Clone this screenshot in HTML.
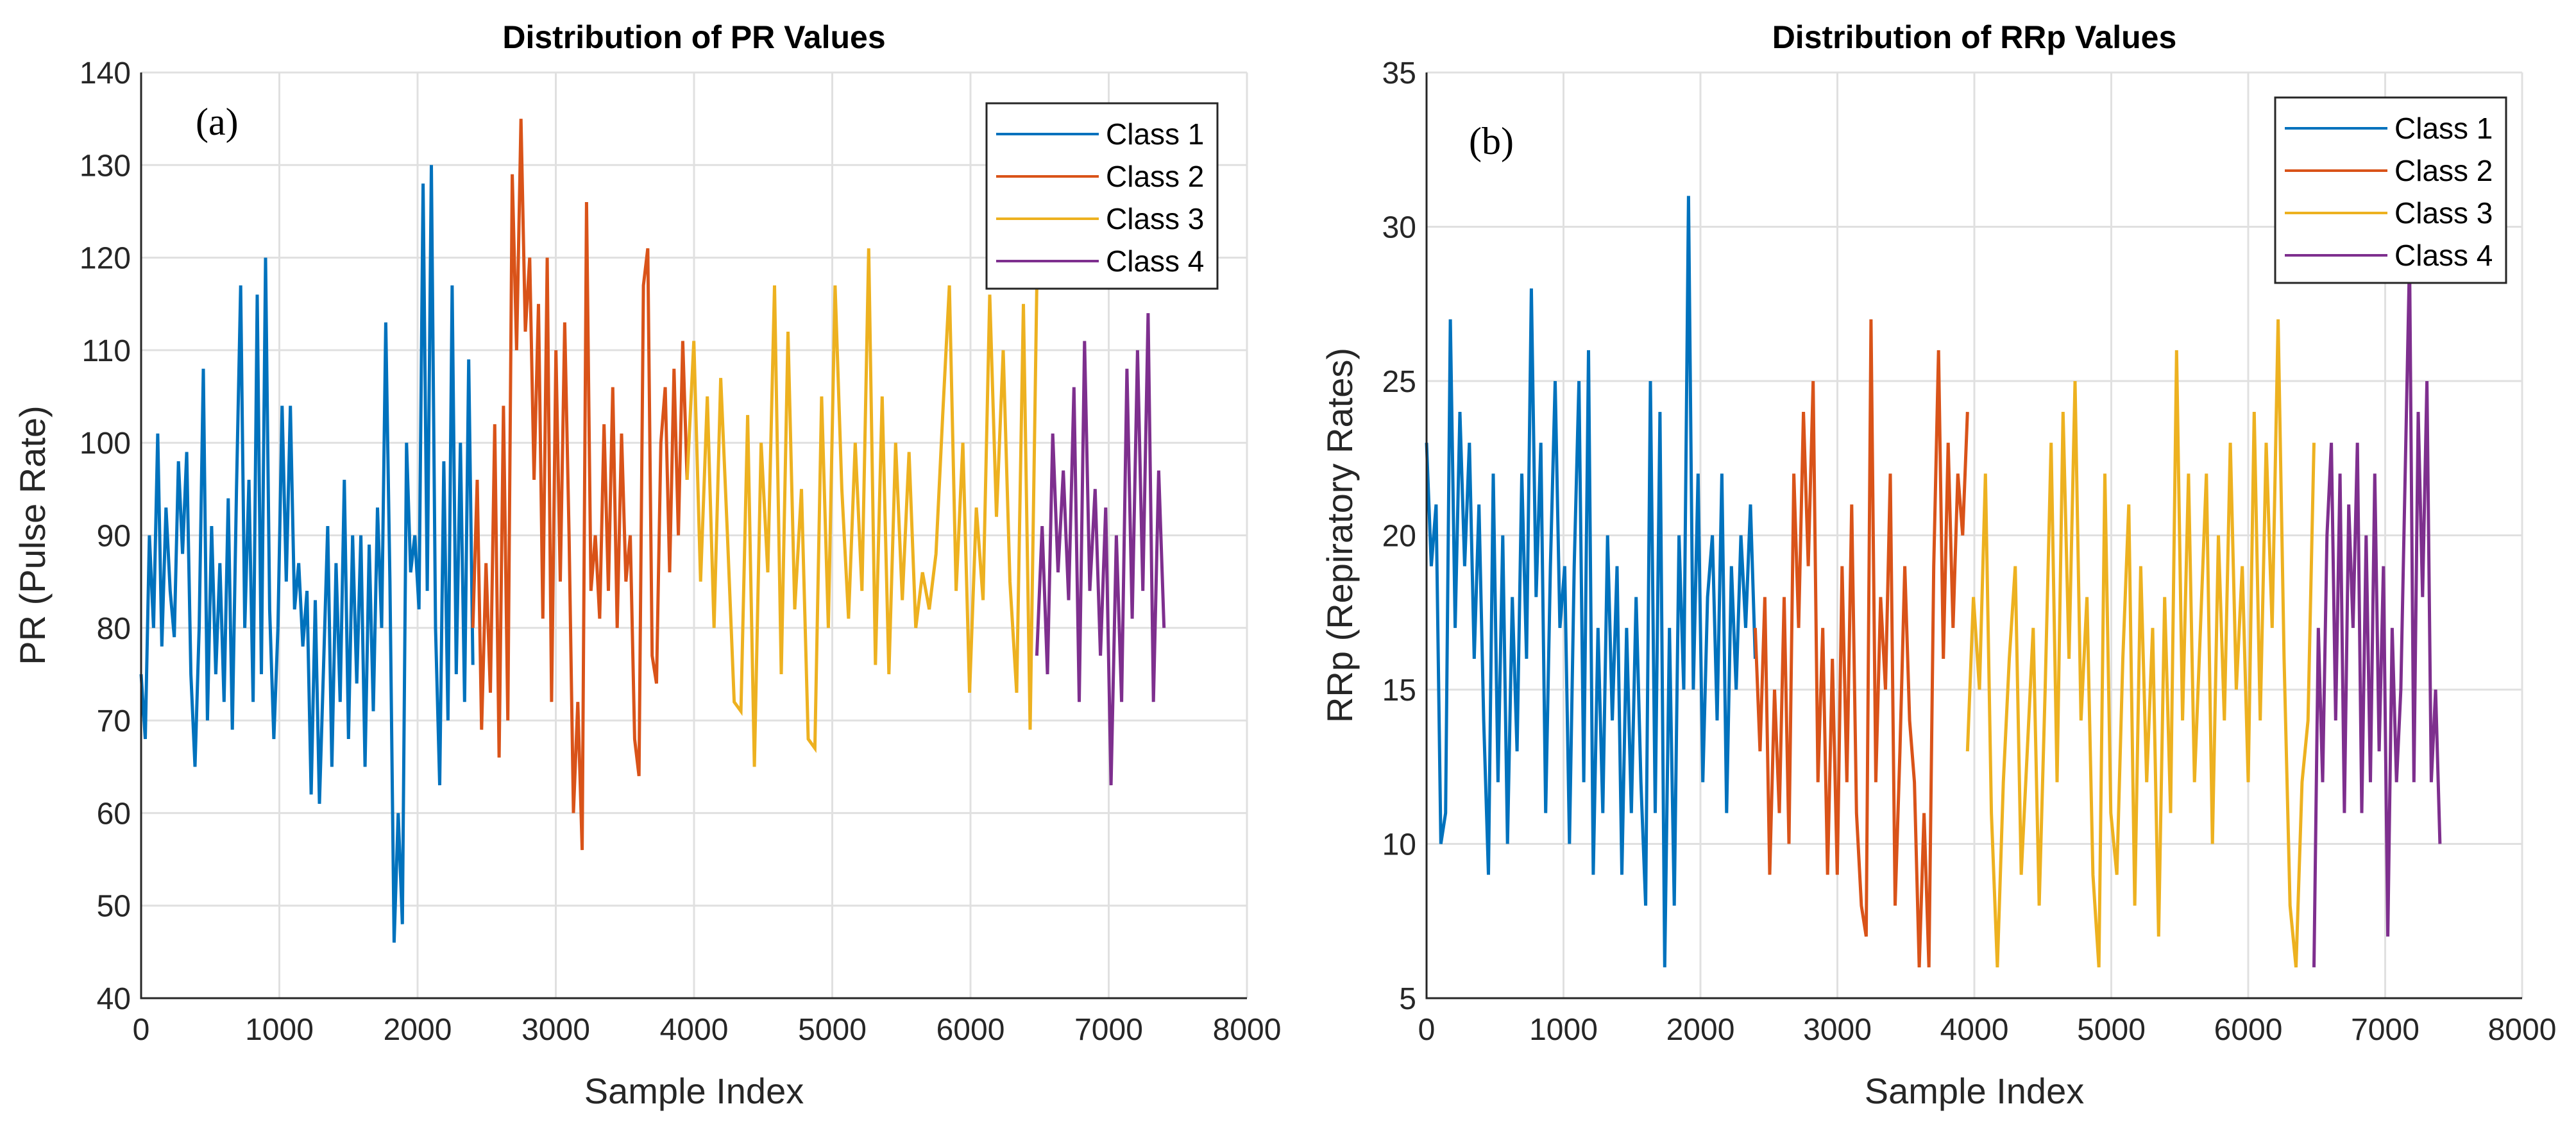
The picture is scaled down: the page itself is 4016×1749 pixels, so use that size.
<!DOCTYPE html>
<html><head><meta charset="utf-8"><style>
body{margin:0;background:#fff;}
svg{display:block;font-family:"Liberation Sans",sans-serif;}
</style></head><body>
<svg id="fig" width="4016" height="1749" viewBox="0 0 4016 1749" xmlns="http://www.w3.org/2000/svg"></svg>
<script>
const colors=['#0072BD','#D95319','#EDB120','#7E2F8E'];
const classNames=['Class 1','Class 2','Class 3','Class 4'];
const classRanges=[[0,2400],[2400,3950],[3950,6480],[6480,7400]];
const xTicks=[0,1000,2000,3000,4000,5000,6000,7000,8000];
const prTicks=[40,50,60,70,80,90,100,110,120,130,140];
const rrTicks=[5,10,15,20,25,30,35];
const pr1=[75,68,90,80,101,78,93,84,79,98,88,99,75,65,80,108,70,91,75,87,72,94,69,95,117,80,96,72,116,75,120,82,68,80,104,85,104,82,87,78,84,62,83,61,76,91,65,87,72,96,68,90,74,90,65,89,71,93,80,113,85,46,60,48,100,86,90,82,128,84,130,80,63,98,70,117,75,100,72,109,76];
const pr2=[80,96,69,87,73,102,66,104,70,129,110,135,112,120,96,115,81,120,72,110,85,113,90,60,72,56,126,84,90,81,102,84,106,80,101,85,90,68,64,117,121,77,74,100,106,86,108,90,111,96];
const pr3=[96,111,85,105,80,107,90,72,71,103,65,100,86,117,75,112,82,95,68,67,105,80,117,95,81,100,84,121,76,105,75,100,83,99,80,86,82,88,103,117,84,100,73,93,83,116,92,110,85,73,115,69,117];
const pr4=[77,91,75,101,86,97,83,106,72,111,84,95,77,93,63,90,72,108,81,110,84,114,72,97,80];
const rr1=[23,19,21,10,11,27,17,24,19,23,16,21,14,9,22,12,20,10,18,13,22,16,28,18,23,11,19,25,17,19,10,19,25,12,26,9,17,11,20,14,19,9,17,11,18,12,8,25,11,24,6,17,8,20,15,31,15,22,12,18,20,14,22,11,19,15,20,17,21,16];
const rr2=[17,13,18,9,15,11,18,10,22,17,24,19,25,12,17,9,16,9,19,12,21,11,8,7,27,12,18,15,22,8,13,19,14,12,6,11,6,19,26,16,23,17,22,20,24];
const rr3=[13,18,15,22,11,6,12,16,19,9,13,17,8,15,23,12,24,16,25,14,18,9,6,22,11,9,16,21,8,19,12,17,7,18,11,26,14,22,12,17,22,10,20,14,23,15,19,12,24,14,23,17,27,16,8,6,12,14,23];
const rr4=[6,17,12,20,23,14,22,11,21,17,23,11,20,12,22,13,19,7,17,12,15,22,29,12,24,18,25,12,15,10];

const NS='http://www.w3.org/2000/svg';
const svg=document.getElementById('fig');
function mk(tag,attrs,parent){const e=document.createElementNS(NS,tag);for(const k in attrs)e.setAttribute(k,attrs[k]);(parent||svg).appendChild(e);return e;}

function drawChart(cfg){
  const g=mk('g',{});
  
  
  const L=cfg.L,R=cfg.R,T=113,B=1556;
  const xs=v=>L+(v-0)/8000*(R-L);
  const ys=v=>B-(v-cfg.ymin)/(cfg.ymax-cfg.ymin)*(B-T);
  mk('rect',{x:L,y:T,width:R-L,height:B-T,fill:'#fff'},g);
  xTicks.forEach(t=>{
    const l=mk('line',{x1:xs(t),x2:xs(t),y1:T,y2:B,stroke:'#e0e0e0','stroke-width':3},g);
    
    
    const tx=mk('text',{x:xs(t),y:B+65,'font-size':48,'text-anchor':'middle',fill:'#262626'},g);
    tx.textContent=t;
    
    
  });
  cfg.ticks.forEach(t=>{
    const l=mk('line',{x1:L,x2:R,y1:ys(t),y2:ys(t),stroke:'#e0e0e0','stroke-width':3},g);
    
    
    const tx=mk('text',{x:L-16,y:ys(t)+17,'font-size':48,'text-anchor':'end',fill:'#262626'},g);
    tx.textContent=t;
    
    
  });
  cfg.series.forEach((arr,i)=>{
    const [a,b]=classRanges[i];
    const pts=arr.map((v,j)=>xs(a+(b-a)*j/(arr.length-1)).toFixed(1)+','+ys(v).toFixed(1)).join(' ');
    const p=mk('polyline',{points:pts,fill:'none',stroke:colors[i],'stroke-width':5,'stroke-linejoin':'miter'},g);
    
    
  });
  const ax=mk('path',{d:`M${L},${T} L${L},${B} L${R},${B}`,fill:'none',stroke:'#262626','stroke-width':3},g);
  
  
  const title=mk('text',{x:(L+R)/2,y:75,'font-size':50,'font-weight':'bold','text-anchor':'middle',fill:'#000'},g);
  title.textContent=cfg.title;
  
  
  const xl=mk('text',{x:(L+R)/2,y:1720,'font-size':56,'text-anchor':'middle',fill:'#262626'},g);
  xl.textContent='Sample Index';
  
  
  const yl=mk('text',{x:0,y:0,'font-size':56,'text-anchor':'middle',fill:'#262626',transform:`translate(${cfg.ylx},${(T+B)/2}) rotate(-90)`},g);
  yl.textContent=cfg.ylabel;
  
  
  const pl=mk('text',{x:cfg.panelX,y:cfg.panelY,'font-size':60,'font-family':'"Liberation Serif",serif',fill:'#000'},g);
  pl.textContent=cfg.panel;
  
  
  const lg=mk('g',{},g);
  
  
  mk('rect',{x:cfg.lgX,y:cfg.lgY,width:360,height:289,fill:'#fff',stroke:'#262626','stroke-width':3},lg);
  classNames.forEach((n,i)=>{
    const yy=cfg.lgY+48+i*66;
    const ln=mk('line',{x1:cfg.lgX+15,x2:cfg.lgX+175,y1:yy,y2:yy,stroke:colors[i],'stroke-width':4},lg);
    
    
    const t=mk('text',{x:cfg.lgX+186,y:yy+16,'font-size':46,fill:'#000'},lg);
    t.textContent=n;
    
    
  });
}
drawChart({name:'pr-chart',L:220,R:1944,ymin:40,ymax:140,ticks:prTicks,series:[pr1,pr2,pr3,pr4],title:'Distribution of PR Values',ylabel:'PR (Pulse Rate)',ylx:70,panel:'(a)',panelX:305,panelY:210,lgX:1538,lgY:161});
drawChart({name:'rrp-chart',L:2224,R:3932,ymin:5,ymax:35,ticks:rrTicks,series:[rr1,rr2,rr3,rr4],title:'Distribution of RRp Values',ylabel:'RRp (Repiratory Rates)',ylx:2108,panel:'(b)',panelX:2290,panelY:240,lgX:3547,lgY:152});
</script>
</body></html>
